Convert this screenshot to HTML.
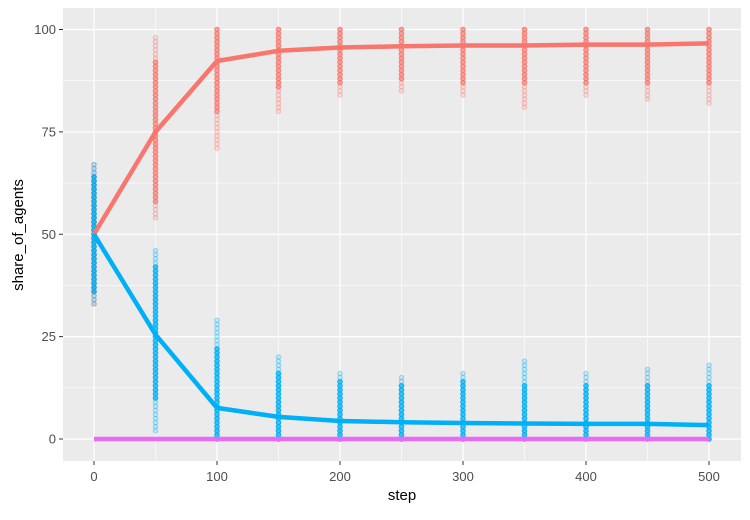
<!DOCTYPE html>
<html><head><meta charset="utf-8"><style>
body{margin:0;background:#fff;}
svg text{font-family:"Liberation Sans",Arial,sans-serif;}
</style></head><body>
<svg id="chart" width="750" height="515" xmlns="http://www.w3.org/2000/svg">
<rect x="63" y="8" width="678" height="453" fill="#ebebeb"/>
<g id="grid"></g><g id="pts"></g><g id="lines"></g><g id="axes"></g>
<text x="402" y="500" font-size="15" text-anchor="middle" fill="#000">step</text>
<text transform="translate(23,235) rotate(-90)" font-size="15" text-anchor="middle" fill="#000">share_of_agents</text>
</svg>
<script>
const steps=[0,50,100,150,200,250,300,350,400,450,500];
const redMean=[50,75,92.3,94.8,95.6,95.9,96.1,96.1,96.3,96.3,96.6];
const blueMean=[50,25.5,7.6,5.4,4.4,4.1,3.9,3.8,3.7,3.7,3.4];
const pinkMean=[0,0,0,0,0,0,0,0,0,0,0];
const redLow=[33,54,71,80,84,85,84,81,84,83,82];
const redHigh=[67,98,100,100,100,100,100,100,100,100,100];
const redCoreLow=[36,58,80,86,87,88,87,87,87,87,87];
const redCoreHigh=[64,92,100,100,100,100,100,100,100,100,100];
const blueLow=[33,2,0,0,0,0,0,0,0,0,0];
const blueHigh=[67,46,29,20,16,15,16,19,16,17,18];
const blueCoreLow=[36,10,0,0,0,0,0,0,0,0,0];
const blueCoreHigh=[64,42,22,16,14,13,14,13,13,13,13];
const xTicks=[0,100,200,300,400,500];
const yTicks=[0,25,50,75,100];
const NS="http://www.w3.org/2000/svg";
const X=v=>94+v*1.23, Y=v=>439-v*4.095;
function mk(t,a,p){const e=document.createElementNS(NS,t);for(const k in a)e.setAttribute(k,a[k]);document.getElementById(p).appendChild(e);return e;}
for(const v of [50,150,250,350,450]){const e=mk('line',{x1:X(v),x2:X(v),y1:8,y2:461,stroke:'#fff','stroke-width':0.6},'grid');

}
for(const v of [12.5,37.5,62.5,87.5]){const e=mk('line',{x1:63,x2:741,y1:Y(v),y2:Y(v),stroke:'#fff','stroke-width':0.6},'grid');

}
xTicks.forEach(v=>{const e=mk('line',{x1:X(v),x2:X(v),y1:8,y2:461,stroke:'#fff','stroke-width':1.2},'grid');


const t=mk('line',{x1:X(v),x2:X(v),y1:461,y2:465,stroke:'#333'},'axes');


const l=mk('text',{x:X(v),y:481,'font-size':13,'text-anchor':'middle',fill:'#4d4d4d'},'axes');l.textContent=v;

});
yTicks.forEach(v=>{const e=mk('line',{x1:63,x2:741,y1:Y(v),y2:Y(v),stroke:'#fff','stroke-width':1.2},'grid');


const t=mk('line',{x1:59,x2:63,y1:Y(v),y2:Y(v),stroke:'#333'},'axes');


const l=mk('text',{x:56,y:Y(v)+4.5,'font-size':13,'text-anchor':'end',fill:'#4d4d4d'},'axes');l.textContent=v;

});
function scatter(lo,hi,col,op,name){steps.forEach((s,i)=>{for(let v=lo[i];v<=hi[i];v+=1){const c=mk('circle',{cx:X(s),cy:Y(v),r:2.3,fill:col,'fill-opacity':op,stroke:col,'stroke-opacity':op+0.15,'stroke-width':1},'pts');

}});}
scatter(redLow,redHigh,'#f8766d',0.2,'red-point');
scatter(redCoreLow,redCoreHigh,'#f8766d',0.6,'red-point');
scatter(blueLow,blueHigh,'#00b0f6',0.2,'blue-point');
scatter(blueCoreLow,blueCoreHigh,'#00b0f6',0.7,'blue-point');
function line(arr,col,name){const p=mk('polyline',{points:steps.map((s,i)=>X(s)+','+Y(arr[i])).join(' '),fill:'none',stroke:col,'stroke-width':4.5,'stroke-linejoin':'round'},'lines');

}
line(redMean,'#f8766d','red-mean-line');
line(blueMean,'#00b0f6','blue-mean-line');
line(pinkMean,'#e76bf3','pink-mean-line');
</script>
</body></html>
